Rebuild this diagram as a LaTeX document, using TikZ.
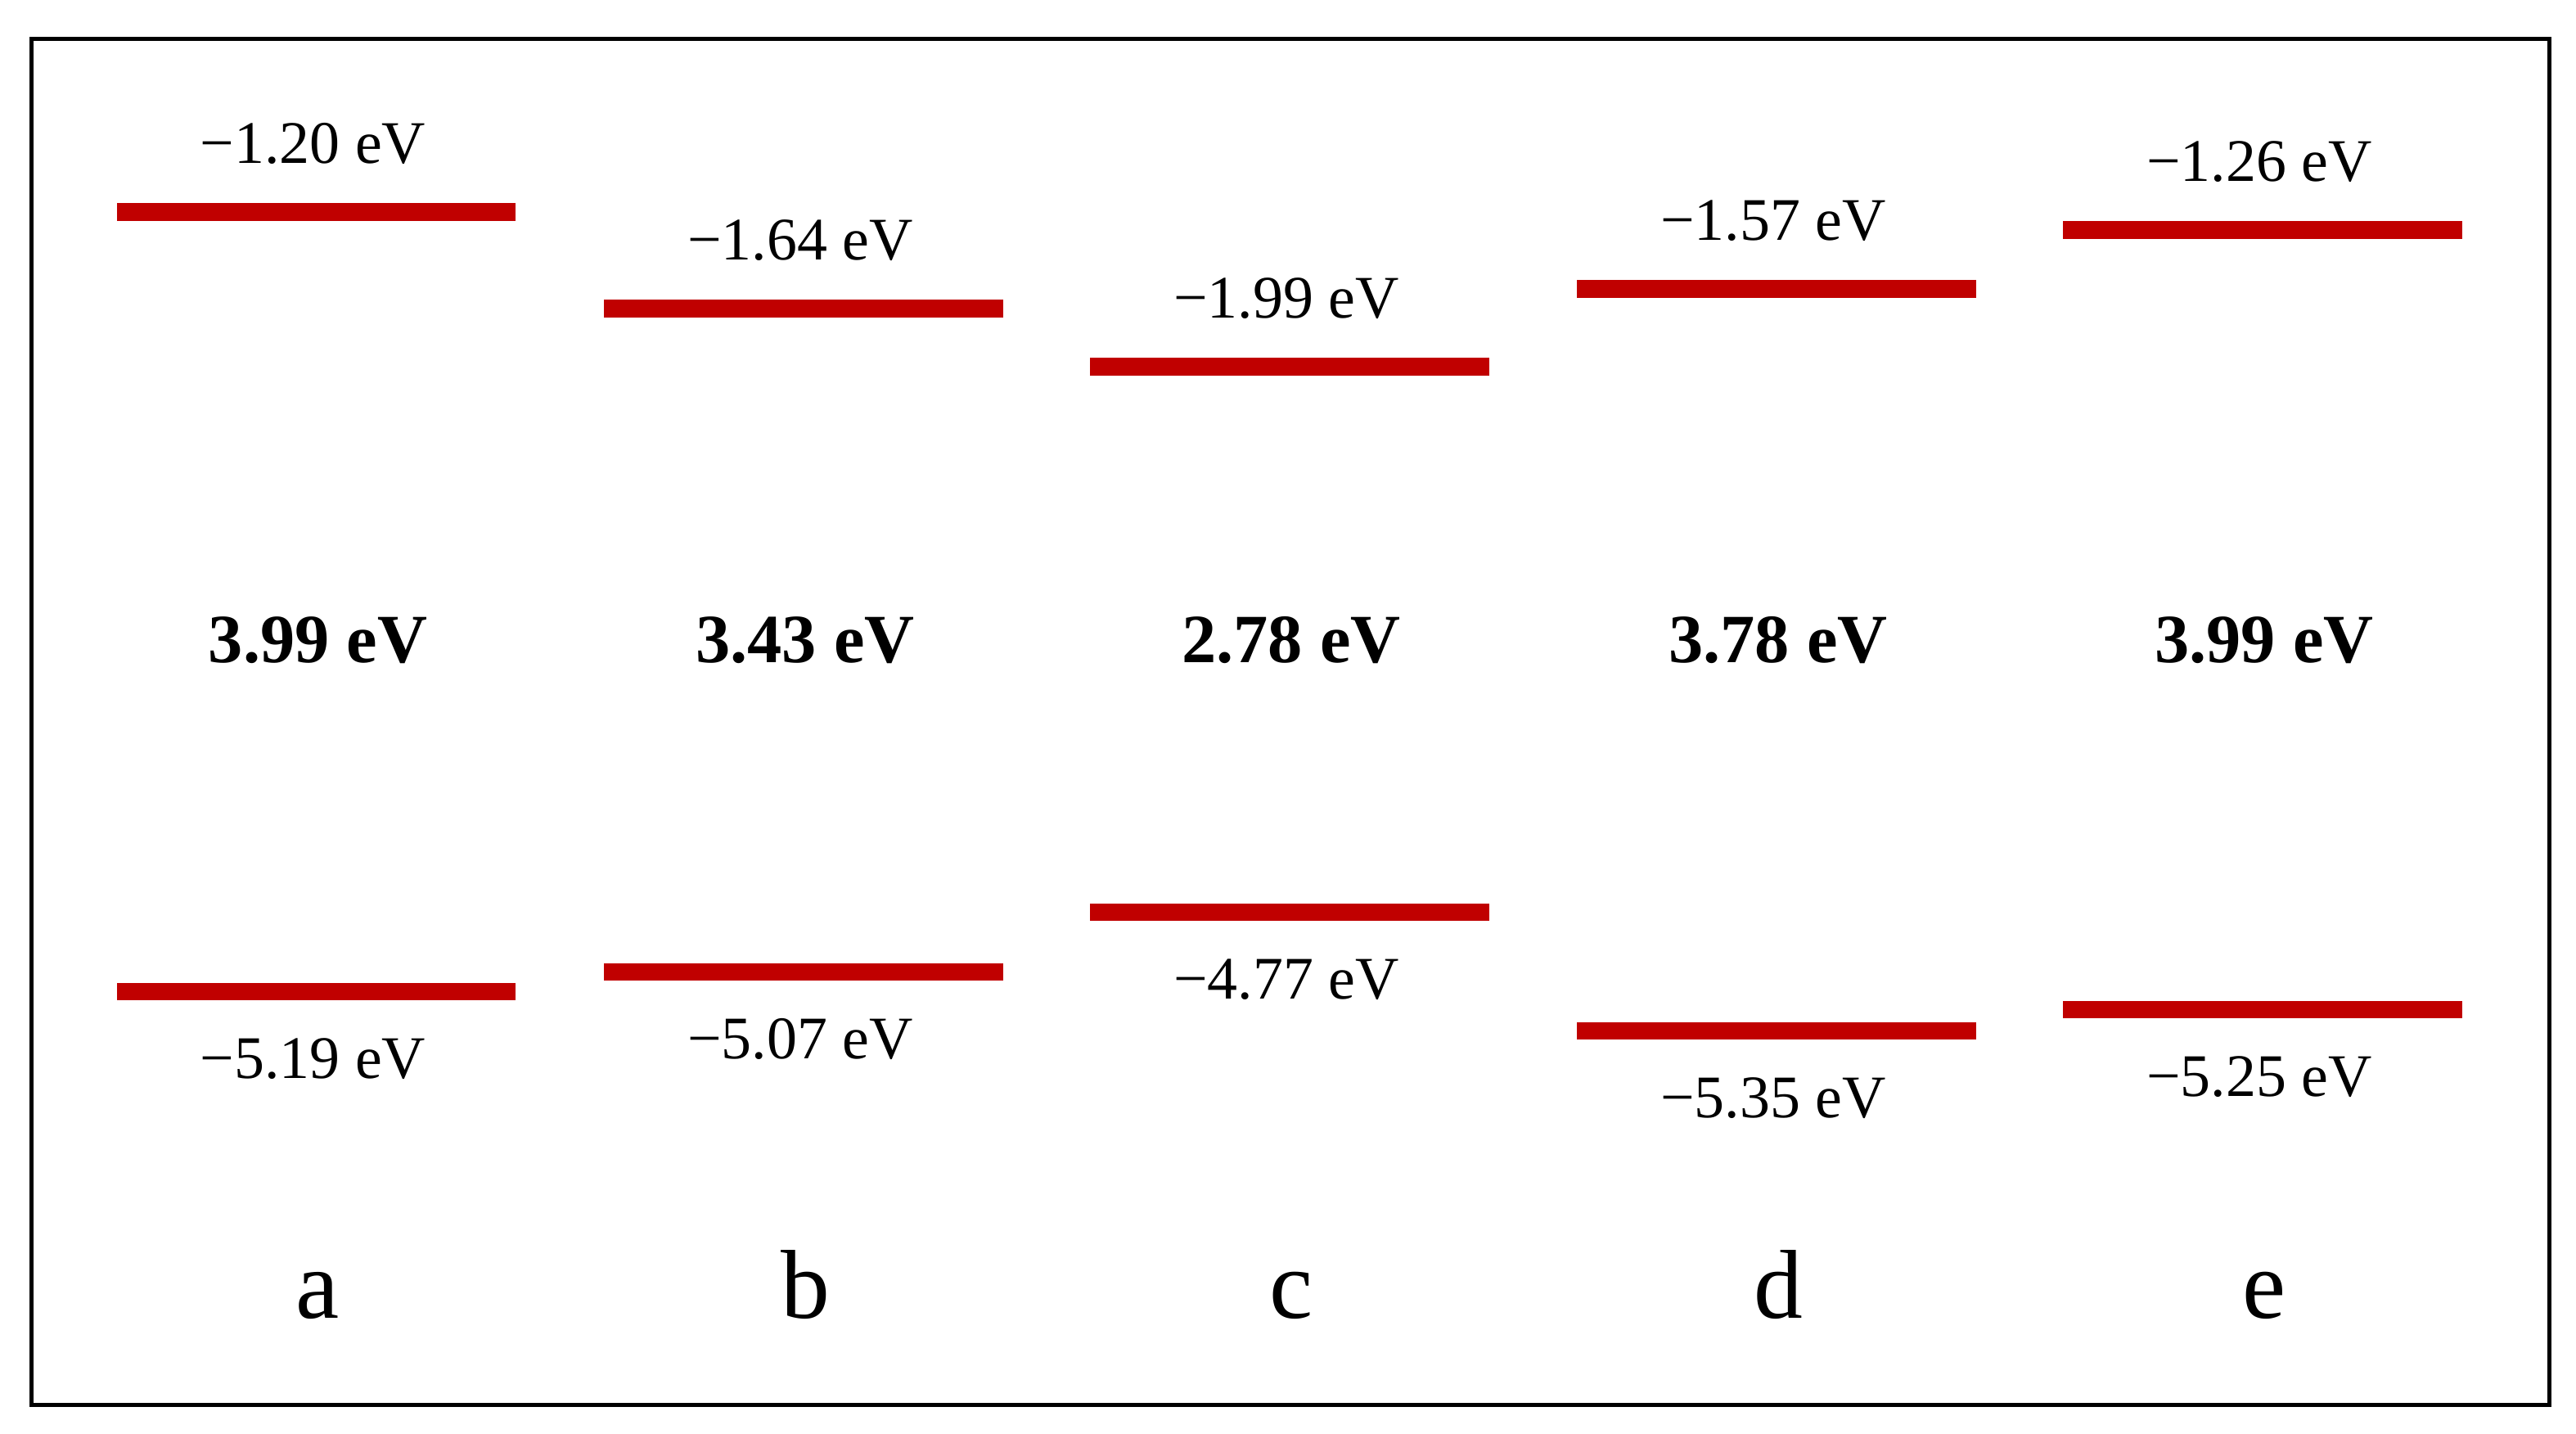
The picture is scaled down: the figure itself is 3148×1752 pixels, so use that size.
\documentclass[tikz,border=0pt]{standalone}
\usepackage{fontspec}
\setmainfont{Liberation Serif}
\definecolor{barred}{RGB}{192,0,0}
\begin{document}
\begin{tikzpicture}[x=0.01cm,y=-0.01cm,
  level/.style={fill=barred,draw=none,inner sep=0pt,minimum width=4.87cm,minimum height=0.21cm},
  val/.style={anchor=base,inner sep=0pt,font=\fontsize{21}{25}\selectfont},
  gaplabel/.style={anchor=base,inner sep=0pt,font=\fontsize{24}{28}\selectfont\bfseries},
  letter/.style={anchor=base,inner sep=0pt,font=\fontsize{34}{40}\selectfont}]
\useasboundingbox (0,0) rectangle (3148,1752);
\draw[line width=0.05cm] (38.5,47.5) rectangle (3115.5,1716.5);
\foreach \n/\x/\lu/\ho/\lul/\hol/\g in {
  a/386.5/257/1209/1.20/5.19/3.99,
  b/982/375/1185/1.64/5.07/3.43,
  c/1576/446/1112/1.99/4.77/2.78,
  d/2171/351/1257/1.57/5.35/3.78,
  e/2765/279/1231/1.26/5.25/3.99}{
  \node[level] (L\n) at (\x,\lu+2) {};
  \node[level] (H\n) at (\x,\ho+2) {};
  \node[val] (tL\n) at (\x-4,\lu-57) {−\lul\ eV};
  \node[val] (tH\n) at (\x-4,\ho+108) {−\hol\ eV};
  \node[gaplabel] (G\n) at (\x+2,809) {\g\ eV};
  \node[letter] (N\n) at (\x+2,1610) {\n};
}
\end{tikzpicture}
\end{document}
